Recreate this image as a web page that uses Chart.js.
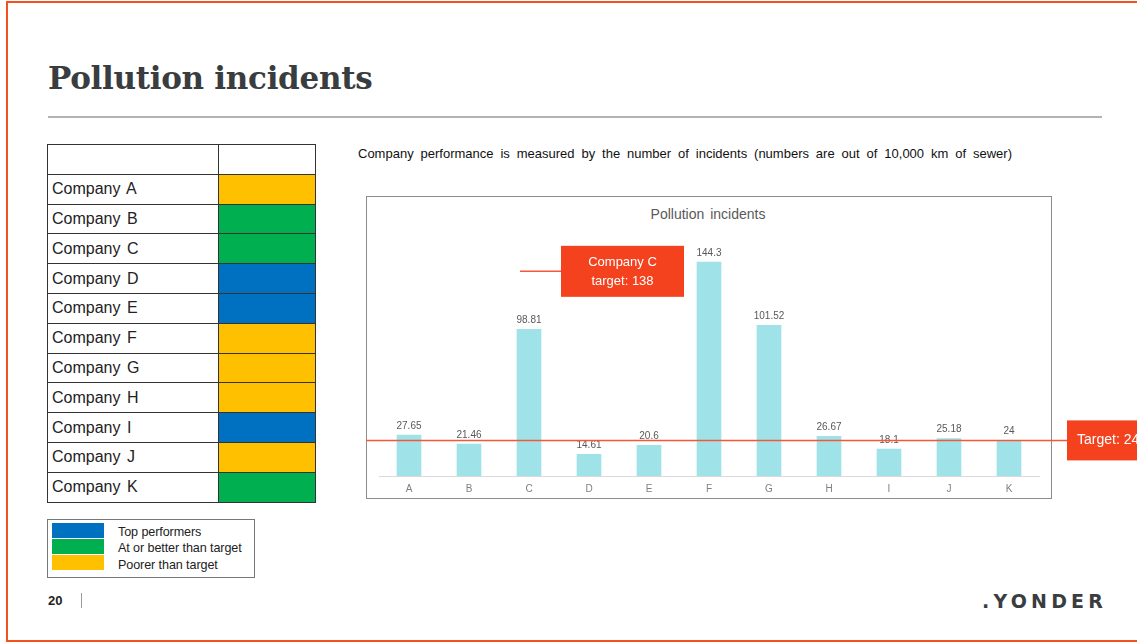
<!DOCTYPE html>
<html>
<head>
<meta charset="utf-8">
<script src="https://cdn.jsdelivr.net/npm/chart.js@4.4.1/dist/chart.umd.min.js"></script>
<style>
  html, body { margin: 0; padding: 0; background: #fff; }
  body { width: 1137px; height: 642px; position: relative; overflow: hidden; font-family: "Liberation Sans", Arial, sans-serif; }
  .frame { position: absolute; left: 6px; top: 1px; width: 1160px; height: 637px; border: 2px solid #f4511e; box-sizing: content-box; }
  h1 { position: absolute; left: 48px; top: 60px; margin: 0; font-family: "DejaVu Serif", serif; font-weight: bold; font-size: 31px; color: #3a3d40; letter-spacing: -0.3px; }
  .rule { position: absolute; left: 48px; top: 116px; width: 1054px; height: 2px; background: #b3b3b3; }
  table.co { position: absolute; left: 47px; top: 144px; border-collapse: collapse; }
  table.co td { border: 1.5px solid #333; height: 28.8px; padding: 0; font-size: 16px; color: #222; word-spacing: 2px; }
  table.co td.name { width: 166px; padding-left: 4px; }
  table.co td.sw { width: 96px; }
  .legend { position: absolute; left: 47px; top: 519px; width: 206px; height: 57px; border: 1.5px solid #777; }
  .legend .chip { position: absolute; left: 4px; width: 52px; height: 15px; }
  .legend .txt { position: absolute; left: 70px; font-size: 12.6px; color: #222; letter-spacing: -0.1px; }
  .page { position: absolute; left: 48px; top: 593px; font-size: 13px; font-weight: bold; color: #222; }
  .bar-sep { position: absolute; left: 81px; top: 593px; width: 1px; height: 15px; background: #999; }
  .brand { position: absolute; left: 982px; top: 590px; font-size: 19px; font-weight: bold; color: #3a3d40; letter-spacing: 4.2px; font-family: "DejaVu Sans", sans-serif; }
  .sub { position: absolute; left: 358px; top: 146px; font-size: 13px; color: #111; word-spacing: 3.3px; }
  .box { position: absolute; left: 366px; top: 196px; width: 684px; height: 301px; border: 1.5px solid #8c8c8c; }
  .ctitle { position: absolute; left: 366px; top: 206px; width: 684px; text-align: center; font-size: 14px; color: #595959; word-spacing: 2px; }
  #chart { position: absolute; left: 366px; top: 197px; }
</style>
</head>
<body>
<div class="frame"></div>
<h1>Pollution incidents</h1>
<div class="rule"></div>

<table class="co" id="coTable"></table>

<div class="legend" id="legendBox"></div>

<div class="page">20</div>
<div class="bar-sep"></div>
<div class="brand">.YONDER</div>

<div class="sub">Company performance is measured by the number of incidents (numbers are out of 10,000 km of sewer)</div>
<div class="box"></div>
<div class="ctitle">Pollution incidents</div>
<canvas id="chart" width="771" height="300"></canvas>

<script>
// Company codes shown on the x axis and their incident rates
const categories = ['A', 'B', 'C', 'D', 'E', 'F', 'G', 'H', 'I', 'J', 'K'];
const incidents = [27.65, 21.46, 98.81, 14.61, 20.6, 144.3, 101.52, 26.67, 18.1, 25.18, 24];

// Industry target and the separate target for Company C
const industryTarget = 24;
const companyCTarget = 138;

// Performance rating per company (table on the left)
const companyNames = ['Company A', 'Company B', 'Company C', 'Company D', 'Company E', 'Company F',
  'Company G', 'Company H', 'Company I', 'Company J', 'Company K'];
const ratings = ['poor', 'target', 'target', 'top', 'top', 'poor', 'poor', 'poor', 'top', 'poor', 'target'];

// Rating legend
const ratingKeys = ['top', 'target', 'poor'];
const ratingLabels = ['Top performers', 'At or better than target', 'Poorer than target'];
const ratingColors = { top: '#0070c0', target: '#00b050', poor: '#ffc000' };

// Build the rating table
const table = document.getElementById('coTable');
let html = '<tr><td class="name"></td><td class="sw"></td></tr>';
companyNames.forEach((n, i) => {
  html += '<tr><td class="name">' + n + '</td><td class="sw" style="background:' + ratingColors[ratings[i]] + '"></td></tr>';
});
table.innerHTML = html;

// Build the legend
const lg = document.getElementById('legendBox');
ratingKeys.forEach((k, i) => {
  const chip = document.createElement('div');
  chip.className = 'chip';
  chip.style.top = (3 + i * 16) + 'px';
  chip.style.background = ratingColors[k];
  lg.appendChild(chip);
  const t = document.createElement('div');
  t.className = 'txt';
  t.style.top = (4.5 + i * 16.5) + 'px';
  t.textContent = ratingLabels[i];
  lg.appendChild(t);
});

const RED = '#f4421f';
const FONT = '"Liberation Sans", Arial, sans-serif';

// Value labels, target line and the target call-outs
const overlays = {
  id: 'overlays',
  afterDatasetsDraw(chart) {
    const ctx = chart.ctx;
    const xs = chart.scales.x, ys = chart.scales.y;
    const meta = chart.getDatasetMeta(0);
    ctx.save();

    // values above each bar
    ctx.font = '10px ' + FONT;
    ctx.fillStyle = '#595959';
    ctx.textAlign = 'center';
    ctx.textBaseline = 'bottom';
    meta.data.forEach((bar, i) => {
      ctx.fillText(String(incidents[i]), bar.x, bar.y - 4);
    });

    // industry target line with label box at the right
    const ty = ys.getPixelForValue(industryTarget);
    const boxLeft = 701;
    ctx.strokeStyle = '#f4583a';
    ctx.lineWidth = 1.5;
    ctx.beginPath();
    ctx.moveTo(0, ty);
    ctx.lineTo(boxLeft, ty);
    ctx.stroke();
    ctx.fillStyle = RED;
    ctx.fillRect(boxLeft, ty - 20, 90, 40);
    ctx.fillStyle = '#fff';
    ctx.font = '14px ' + FONT;
    ctx.textAlign = 'left';
    ctx.textBaseline = 'middle';
    ctx.fillText('Target: ' + industryTarget, boxLeft + 10, ty);

    // Company C target call-out
    const cy = ys.getPixelForValue(companyCTarget);
    const cx = xs.getPixelForValue(2);
    const lineStart = cx - 9;
    const cBoxLeft = cx + 32;
    ctx.strokeStyle = '#f4583a';
    ctx.lineWidth = 1.5;
    ctx.beginPath();
    ctx.moveTo(lineStart, cy);
    ctx.lineTo(cBoxLeft, cy);
    ctx.stroke();
    ctx.fillStyle = RED;
    ctx.fillRect(cBoxLeft, cy - 25.5, 123, 51);
    ctx.fillStyle = '#fff';
    ctx.textAlign = 'center';
    ctx.font = '13px ' + FONT;
    ctx.fillText('Company C', cBoxLeft + 61.5, cy - 8.5);
    ctx.fillText('target: ' + companyCTarget, cBoxLeft + 61.5, cy + 10.5);

    ctx.restore();
  }
};

new Chart(document.getElementById('chart'), {
  type: 'bar',
  data: {
    labels: categories,
    datasets: [{
      data: incidents,
      backgroundColor: '#9fe3e8',
      borderWidth: 0,
      barThickness: 24
    }]
  },
  options: {
    responsive: false,
    animation: false,
    devicePixelRatio: 1,
    layout: { padding: { left: 13, right: 98, top: 41.7, bottom: 0 } },
    plugins: { legend: { display: false }, tooltip: { enabled: false }, title: { display: false } },
    scales: {
      x: {
        grid: { display: false, drawTicks: false },
        border: { display: true, color: '#d9d9d9', width: 1 },
        ticks: { color: '#7f7f7f', font: { size: 10, family: FONT }, padding: 7 },
        afterFit(s) { s.height = 21; }
      },
      y: { display: false, min: 0, max: 160 }
    }
  },
  plugins: [overlays]
});
</script>
</body>
</html>
